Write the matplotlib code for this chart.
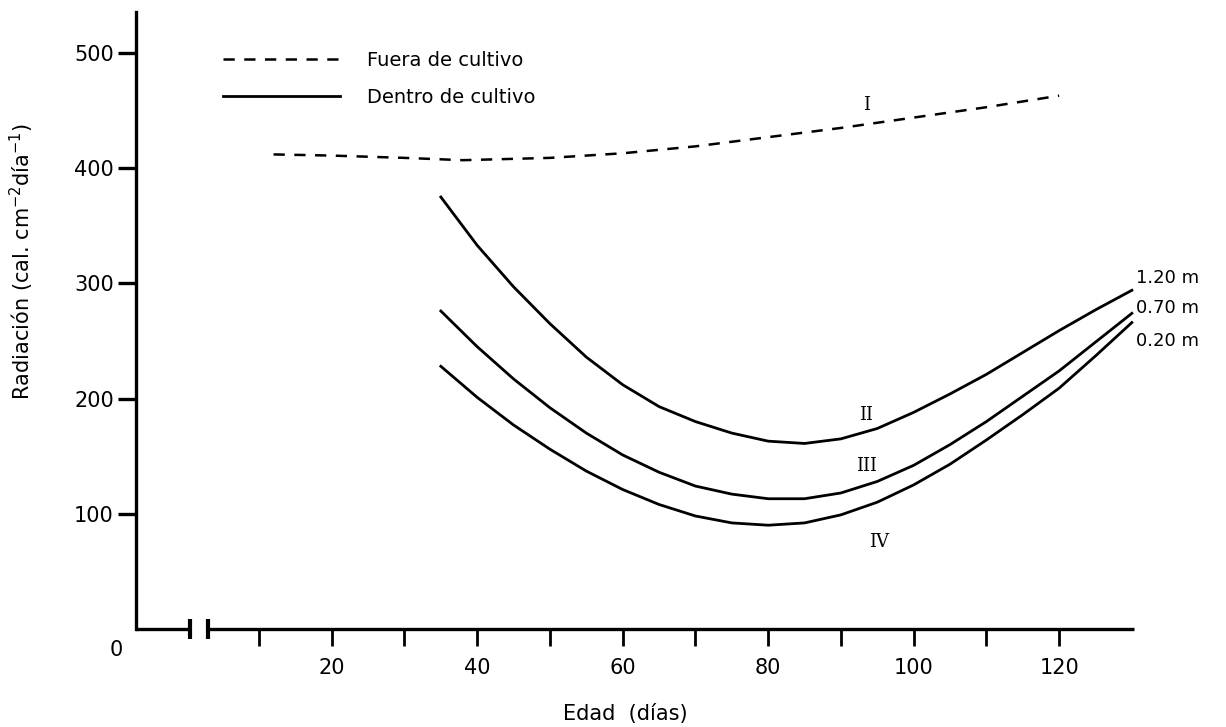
import matplotlib
matplotlib.use("Agg")
import matplotlib.pyplot as plt
from matplotlib.lines import Line2D

plt.rcParams['font.family'] = 'DejaVu Sans'

# Radiación fuera del cultivo (curva I)
dias_fuera = [12, 20, 30, 38, 50, 60, 70, 80, 90, 100, 110, 120]
rad_fuera = [412, 411, 409, 407, 409, 413, 419, 427, 435, 444, 453, 463]

# Radiación dentro del cultivo a tres alturas (curvas II, III, IV)
dias_dentro = [35, 40, 45, 50, 55, 60, 65, 70, 75, 80, 85, 90,
               95, 100, 105, 110, 115, 120, 125, 130]
rad_120 = [375, 333, 297, 265, 236, 212, 193, 180, 170, 163, 161, 165,
           174, 188, 204, 221, 240, 259, 277, 294]
rad_070 = [276, 245, 217, 192, 170, 151, 136, 124, 117, 113, 113, 118,
           128, 142, 160, 180, 202, 224, 249, 274]
rad_020 = [228, 201, 177, 156, 137, 121, 108, 98, 92, 90, 92, 99,
           110, 125, 143, 164, 186, 209, 237, 266]

alturas = ['1.20 m', '0.70 m', '0.20 m']
romanos = ['II', 'III', 'IV']
xticks = list(range(10, 130, 10))
xlabels = [str(t) if t % 20 == 0 else '' for t in xticks]
yticks = [100, 200, 300, 400, 500]

XMIN, XMAX = -6.9, 130.3
YMAX = 536

fig = plt.figure(figsize=(12.26, 7.27), dpi=100)
ax = fig.add_axes([0.111, 0.135, 0.814, 0.849])

dash = (0, (4.5, 3.8))
ax.plot(dias_fuera, rad_fuera, color='black', lw=1.8, linestyle=dash)
for serie in (rad_120, rad_070, rad_020):
    ax.plot(dias_dentro, serie, color='black', lw=2.0, solid_joinstyle='round')

# etiquetas de las curvas
ax.text(93.5, 455, 'I', family='DejaVu Serif', fontsize=13, ha='center', va='center')
pos_rom = [(93.5, 186), (93.5, 141), (95.3, 75)]
for (xx, yy), r in zip(pos_rom, romanos):
    ax.text(xx, yy, r, family='DejaVu Serif', fontsize=13, ha='center', va='center')
pos_alt = [305, 279, 250]
for yy, a in zip(pos_alt, alturas):
    ax.text(130.6, yy, a, fontsize=13, ha='left', va='center', clip_on=False)

ax.set_xlim(XMIN, XMAX)
ax.set_ylim(0, YMAX)

# ejes: izquierdo continuo, inferior con corte
for s in ('top', 'right', 'bottom'):
    ax.spines[s].set_visible(False)
ax.spines['left'].set_linewidth(2.4)
ax.spines['left'].set_bounds(0, YMAX)
corte_a, corte_b = 0.5, 3.0
ax.plot([XMIN, corte_a], [0, 0], color='black', lw=2.4, clip_on=False,
        solid_capstyle='butt')
ax.plot([corte_b, XMAX], [0, 0], color='black', lw=2.4, clip_on=False,
        solid_capstyle='butt')
ax.plot([corte_a, corte_b], [0, 0], linestyle='none', marker='|',
        markersize=15, markeredgewidth=3, color='black', clip_on=False)

ax.set_xticks(xticks)
ax.set_xticklabels(xlabels, fontsize=15)
ax.set_yticks(yticks)
ax.set_yticklabels([str(t) for t in yticks], fontsize=15)
ax.tick_params(axis='x', direction='out', length=12, width=2, pad=9)
ax.tick_params(axis='y', direction='out', length=13, width=2.4, pad=3)
ax.text(XMIN - 1.8, -10, '0', fontsize=15, ha='right', va='top', clip_on=False)

ax.set_xlabel('Edad  (días)', fontsize=15)
ax.xaxis.set_label_coords(0.49, -0.122)
ax.set_ylabel('Radiación (cal. cm$^{-2}$día$^{-1}$)', fontsize=15)
ax.yaxis.set_label_coords(-0.1, 0.595)

handles = [Line2D([], [], color='black', lw=1.8, linestyle=dash),
           Line2D([], [], color='black', lw=2.0)]
ax.legend(handles, ['Fuera de cultivo', 'Dentro de cultivo'], frameon=False,
          loc='upper left', bbox_to_anchor=(0.07, 0.965), fontsize=14,
          handlelength=6.0, handletextpad=1.4, labelspacing=0.95)

fig.savefig('out.png', dpi=100, facecolor='white')
